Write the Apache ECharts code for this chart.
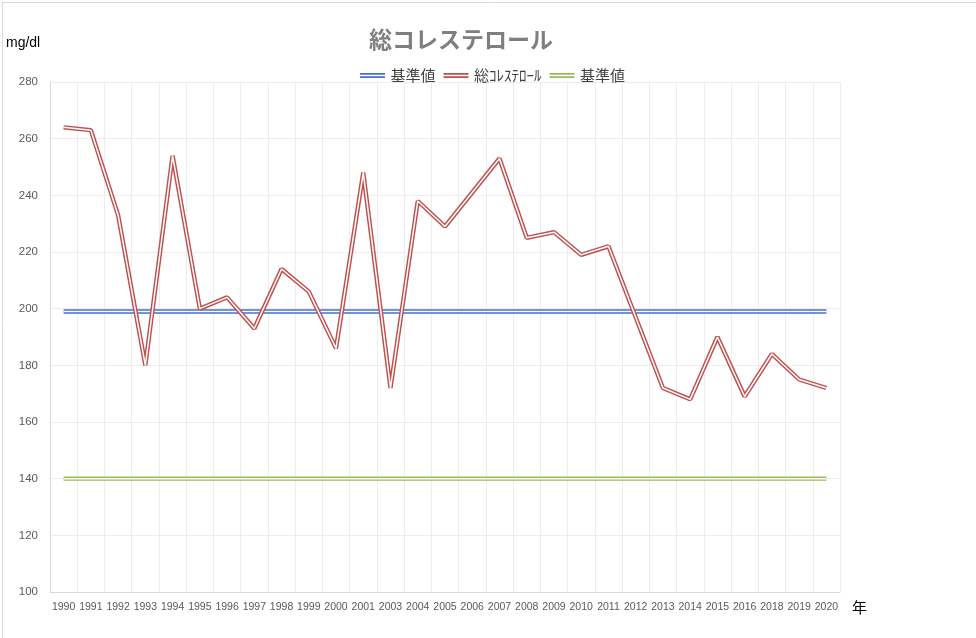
<!DOCTYPE html>
<html>
<head>
<meta charset="utf-8">
<script src="https://cdn.jsdelivr.net/npm/echarts@6/dist/echarts.min.js"></script>
<style>
  html, body { margin: 0; padding: 0; background: #fff; }
  #main { width: 976px; height: 638px; }
</style>
</head>
<body>
<div id="main"></div>
<script>
// 年 (2002 and 2017 are missing in the source)
var years = ["1990", "1991", "1992", "1993", "1994", "1995", "1996", "1997", "1998", "1999",
  "2000", "2001", "2003", "2004", "2005", "2006", "2007", "2008", "2009", "2010",
  "2011", "2012", "2013", "2014", "2015", "2016", "2018", "2019", "2020"];

// 総コレステロール (mg/dl)
var cholesterol = [264, 263, 233, 180, 254, 200, 204, 193, 214, 206,
  186, 248, 172, 238, 229, 241, 253, 225, 227, 219,
  222, 197, 172, 168, 190, 169, 184, 175, 172];

// 基準値
var upperLimit = years.map(function () { return 199; });
var lowerLimit = years.map(function () { return 140; });

var yTicks = { min: 100, max: 280, step: 20 };

var chart = echarts.init(document.getElementById("main"));

var doubleIcon = "path://M0,0h30v2h-30zM0,4h30v2h-30z";

// Excel style double line: wide coloured stroke + thin white stroke on top
function doubleLine(name, data, color, z) {
  return [
    {
      name: name,
      type: "line",
      data: data,
      symbol: "none",
      z: z,
      lineStyle: { color: color, width: 4.4 },
      itemStyle: { color: color }
    },
    {
      name: "_inner_" + z,
      type: "line",
      data: data,
      symbol: "none",
      silent: true,
      z: z + 1,
      lineStyle: { color: "#ffffff", width: 1.5 }
    }
  ];
}

var series = []
  .concat(doubleLine("基準値", upperLimit, "#4472c4", 2))
  .concat(doubleLine("総ｺﾚｽﾃﾛｰﾙ", cholesterol, "#c0504d", 4))
  .concat(doubleLine("基準値 ", lowerLimit, "#9bbb59", 6));

chart.setOption({
  animation: false,
  backgroundColor: "#ffffff",
  title: {
    text: "総コレステロール",
    left: 364,
    top: 23,
    textStyle: {
      fontFamily: "Noto Sans CJK JP",
      fontSize: 23,
      fontWeight: "bold",
      color: "#7f7f7f"
    }
  },
  legend: {
    data: ["基準値", "総ｺﾚｽﾃﾛｰﾙ", "基準値 "],
    left: 355,
    top: 63,
    icon: doubleIcon,
    itemWidth: 26,
    itemHeight: 5,
    itemGap: 8,
    textStyle: {
      fontFamily: "Noto Sans CJK JP",
      fontSize: 15,
      color: "#404040"
    }
  },
  grid: { left: 50, right: 136, top: 82, bottom: 46 },
  xAxis: {
    type: "category",
    data: years,
    boundaryGap: true,
    axisLine: { lineStyle: { color: "#d9d9d9" } },
    axisTick: { show: false },
    axisLabel: {
      interval: 0,
      color: "#595959",
      fontFamily: "Liberation Sans",
      fontSize: 10.5,
      margin: 10
    },
    splitLine: { show: true, lineStyle: { color: "#ededed" } },
    name: "年",
    nameLocation: "end",
    nameGap: 12,
    nameTextStyle: {
      fontFamily: "Noto Sans CJK JP",
      fontSize: 15,
      color: "#000000",
      verticalAlign: "top",
      padding: [8, 0, 0, 0]
    }
  },
  yAxis: {
    type: "value",
    min: yTicks.min,
    max: yTicks.max,
    interval: yTicks.step,
    axisLine: { show: true, lineStyle: { color: "#d9d9d9" } },
    axisTick: { show: false },
    axisLabel: {
      color: "#595959",
      fontFamily: "Liberation Sans",
      fontSize: 11.5,
      margin: 12
    },
    splitLine: { lineStyle: { color: "#ededed" } }
  },
  graphic: [
    {
      type: "rect",
      left: 0, top: 0,
      shape: { width: 975, height: 637 },
      style: { fill: "none", stroke: "#d9d9d9", lineWidth: 1 },
      silent: true
    },
    {
      type: "text",
      left: 6, top: 36,
      style: {
        text: "mg/dl",
        fontFamily: "Liberation Sans",
        fontSize: 14,
        fill: "#000000"
      }
    }
  ],
  series: series
});
</script>
</body>
</html>
